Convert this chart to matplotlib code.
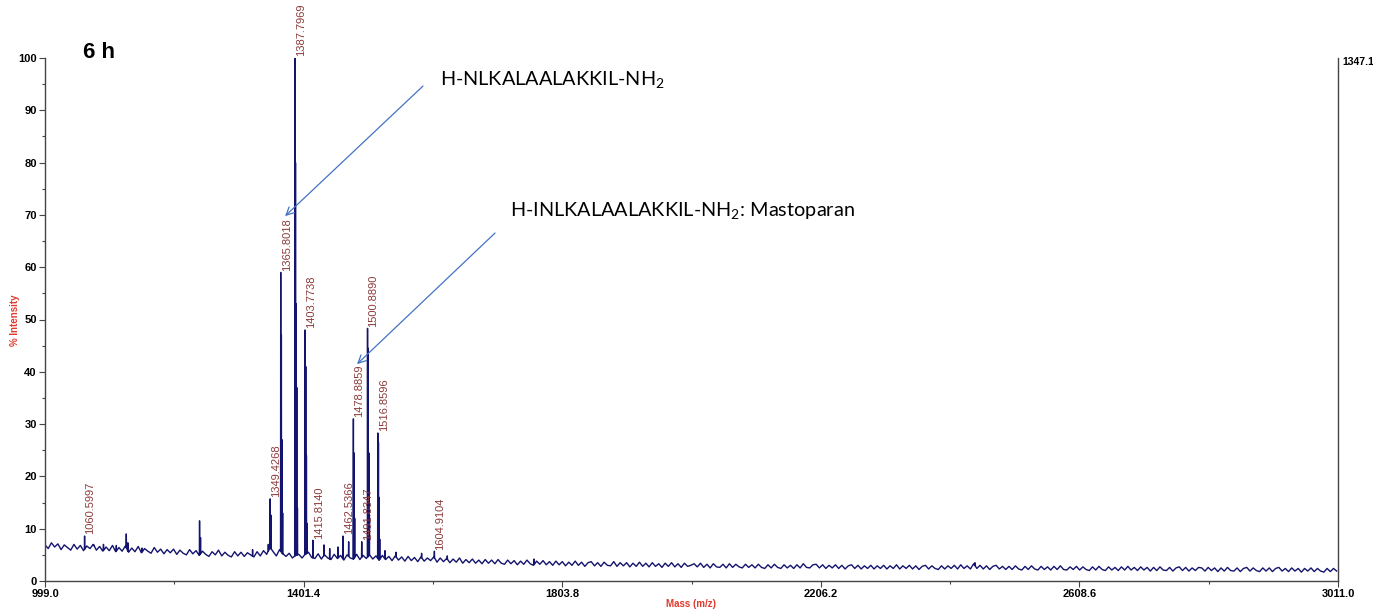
import matplotlib
matplotlib.use("Agg")
import matplotlib.pyplot as plt
import numpy as np

# spectrum baseline, one reading every 5 m/z from 999 to 3009
base_start = 999.0
base_step = 5.0
baseline = [
    6.9, 6.2, 7.3, 6.5, 7.1, 6.0, 6.9, 6.4, 5.9, 7.0, 6.1, 6.8, 5.8, 6.7, 6.2, 7.0, 5.9, 6.6, 5.7, 6.5,
    5.8, 6.8, 5.6, 6.4, 5.7, 6.7, 5.5, 6.3, 5.6, 6.6, 5.4, 6.2, 5.7, 5.3, 6.4, 5.5, 6.1, 5.2, 6.0, 5.4,
    6.1, 5.1, 5.9, 5.3, 5.0, 6.0, 5.2, 5.8, 4.9, 5.7, 5.1, 4.7, 5.6, 5.0, 5.9, 4.8, 5.5, 4.9, 4.6, 5.6,
    4.8, 5.5, 4.7, 5.4, 5.0, 4.6, 5.6, 4.8, 5.8, 5.1, 6.4, 5.6, 4.8, 6.0, 5.2, 4.7, 5.3, 4.4, 4.9, 5.1,
    4.4, 5.1, 5.5, 4.5, 4.3, 5.2, 4.2, 5.0, 4.4, 4.1, 5.1, 4.3, 4.9, 4.0, 5.0, 4.4, 4.2, 5.1, 4.1, 4.9,
    4.3, 5.0, 4.2, 4.8, 4.0, 4.9, 4.1, 4.7, 3.9, 4.8, 4.0, 4.6, 3.8, 4.7, 3.9, 4.5, 3.7, 4.6, 3.8, 4.4,
    3.9, 4.6, 3.6, 4.4, 3.7, 4.3, 3.5, 4.2, 3.6, 4.4, 3.4, 4.1, 3.5, 4.2, 3.4, 4.0, 3.3, 4.1, 3.4, 4.0,
    3.3, 4.1, 3.4, 3.2, 4.0, 3.3, 3.9, 3.1, 3.8, 3.2, 4.0, 3.3, 3.0, 3.8, 3.2, 3.9, 3.1, 3.7, 3.0, 3.8,
    3.1, 3.7, 2.9, 3.6, 3.0, 3.8, 3.0, 3.6, 2.8, 3.5, 3.7, 2.9, 3.5, 2.8, 3.6, 3.0, 2.9, 3.7, 2.8, 3.5,
    2.9, 3.5, 2.7, 3.4, 2.8, 3.6, 2.8, 3.4, 2.7, 3.5, 2.8, 3.3, 2.6, 3.4, 2.8, 3.5, 2.7, 3.3, 2.6, 3.4,
    2.8, 3.0, 3.3, 2.7, 3.4, 2.6, 3.2, 2.5, 3.3, 2.7, 2.6, 3.2, 2.5, 3.3, 2.6, 3.2, 2.7, 2.5, 3.2, 2.6,
    3.1, 2.5, 3.2, 2.6, 2.4, 3.1, 2.5, 3.2, 2.6, 2.4, 3.1, 2.5, 3.0, 2.4, 3.1, 2.5, 3.3, 2.6, 2.5, 3.1,
    3.2, 2.5, 3.1, 2.4, 3.0, 2.5, 3.1, 2.4, 3.0, 2.3, 2.9, 3.1, 2.4, 3.0, 2.3, 2.9, 2.4, 3.0, 2.3, 2.9,
    2.4, 3.0, 2.3, 2.9, 2.4, 3.1, 2.3, 2.9, 2.4, 3.0, 2.3, 2.9, 2.2, 2.8, 3.0, 2.3, 2.9, 2.4, 2.2, 2.9,
    2.3, 2.9, 2.4, 3.0, 2.3, 3.1, 2.4, 2.9, 2.3, 3.3, 2.4, 3.0, 2.3, 2.9, 2.2, 2.8, 3.0, 2.3, 2.8, 2.2,
    2.8, 2.2, 2.9, 2.3, 2.1, 2.8, 2.2, 2.9, 2.3, 2.1, 2.8, 2.2, 2.7, 2.1, 2.8, 2.2, 2.9, 2.2, 2.1, 2.7,
    2.2, 2.8, 2.1, 2.7, 2.2, 2.0, 2.7, 2.1, 2.8, 2.2, 2.0, 2.7, 2.1, 2.6, 2.0, 2.7, 2.1, 2.8, 2.1, 2.6,
    2.0, 2.7, 2.1, 2.6, 1.9, 2.6, 2.0, 2.7, 2.1, 2.0, 2.6, 1.9, 2.5, 2.7, 2.0, 2.6, 1.9, 2.5, 2.0, 2.6,
    2.5, 1.9, 2.6, 2.0, 2.5, 1.8, 2.5, 1.9, 2.6, 2.0, 1.9, 2.5, 1.8, 2.4, 2.6, 1.9, 2.5, 2.0, 1.8, 2.5,
    1.9, 2.5, 1.8, 2.4, 2.6, 1.9, 2.4, 1.8, 2.5, 1.9, 2.4, 1.7, 2.4, 1.9, 2.5, 1.8, 2.4, 1.9, 1.7, 2.4,
    1.8, 2.4, 1.9,
]

# peaks (incl. isotope lines and small unlabelled ones)
peak_mz = [1075.0, 1090.0, 1110.0, 1125.5, 1128.0, 1150.0, 1239.5, 1241.0, 1322.0, 1346.5,
           1060.5997, 1349.4268, 1350.43, 1365.8018, 1366.80, 1367.80, 1368.80,
           1387.7969, 1388.80, 1389.80, 1390.80, 1391.80,
           1403.7738, 1404.78, 1405.78, 1406.78, 1415.8140, 1433.0, 1442.0, 1455.0,
           1462.5366, 1471.5, 1478.8859, 1479.89, 1480.89, 1491.8347,
           1500.8890, 1501.89, 1502.89, 1503.89, 1516.8596, 1517.86, 1518.86, 1519.86,
           1528.0, 1545.0, 1585.0, 1604.9104, 1625.0, 1760.0, 2446.0]
peak_int = [6.9, 7.0, 6.8, 9.0, 7.3, 6.3, 11.5, 8.3, 6.0, 7.0,
            8.6, 15.7, 12.6, 59.0, 47.0, 27.0, 13.0,
            100.0, 80.0, 53.0, 37.0, 14.0,
            48.0, 41.0, 24.0, 11.0, 7.8, 6.9, 6.2, 6.5,
            8.6, 7.5, 31.0, 24.5, 12.0, 7.5,
            48.3, 44.5, 24.5, 12.0, 28.3, 26.5, 16.0, 8.0,
            5.8, 5.5, 5.3, 5.7, 4.8, 4.2, 3.5]

labelled_mz = [1060.5997, 1349.4268, 1365.8018, 1387.7969, 1403.7738, 1415.8140,
               1462.5366, 1478.8859, 1491.8347, 1500.8890, 1516.8596, 1604.9104]

xticks = [999.0, 1401.4, 1803.8, 2206.2, 2608.6, 3011.0]

plt.rcParams['mathtext.fontset'] = 'custom'
plt.rcParams['mathtext.rm'] = 'Lato'

fig = plt.figure(figsize=(13.73, 6.09), dpi=100)
ax = fig.add_axes([45 / 1373, 1 - 581 / 609, (1338 - 45) / 1373, (581 - 58) / 609])

# build trace: baseline grid plus narrow spikes at each peak
base_x = base_start + base_step * np.arange(len(baseline))
base_y = np.array(baseline)
px = np.array(peak_mz)
pb = np.interp(px, base_x, base_y)
xs = np.concatenate([base_x, px - 0.3, px, px + 0.3])
ys = np.concatenate([base_y, pb, np.array(peak_int), pb])
order = np.argsort(xs, kind='stable')
ax.plot(xs[order], ys[order], color='#14146e', lw=1.0)

# peak labels
for mz in labelled_mz:
    h = peak_int[peak_mz.index(mz)]
    ax.text(mz + 1.5, h + 0.3, f'{mz:.4f}', rotation=90, ha='left', va='bottom',
            fontsize=8, color='#8b3a3a', family='Liberation Sans')

ax.set_xlim(999.0, 3011.0)
ax.set_ylim(0, 100)
ax.set_xticks(xticks)
ax.set_xticklabels([f'{t:.1f}' for t in xticks])
ax.set_xticks([(a + b) / 2 for a, b in zip(xticks[:-1], xticks[1:])], minor=True)
ax.set_yticks(range(0, 101, 10))
ax.set_yticks(range(5, 100, 10), minor=True)
for lab in ax.get_xticklabels():
    lab.set_fontweight('bold')
    lab.set_fontfamily('Liberation Sans')
    lab.set_fontsize(8)
for lab in ax.get_yticklabels():
    lab.set_fontweight('bold')
    lab.set_fontfamily('Liberation Sans')
    lab.set_fontsize(8)
ax.tick_params(which='major', length=4, width=0.8, color='#444444', pad=2)
ax.tick_params(which='minor', length=2.5, width=0.8, color='#444444')
ax.spines['top'].set_visible(False)
for s in ['left', 'right', 'bottom']:
    ax.spines[s].set_color('#444444')
    ax.spines[s].set_linewidth(1.0)

# arrows and peptide annotations
arrow = dict(arrowstyle='->', color='#4472c4', lw=0.9, mutation_scale=14)
ax.annotate('', xy=(1369.4, 69.4), xytext=(1590.3, 95.0), arrowprops=arrow)
ax.annotate('', xy=(1481.4, 41.1), xytext=(1702.4, 66.9), arrowprops=arrow)
ax.text(1613.6, 95.8, r'H-NLKALAALAKKIL-NH$_\mathrm{2}$', fontsize=14.3, family='Lato',
        va='center', ha='left')
ax.text(1722.6, 70.6, r'H-INLKALAALAKKIL-NH$_\mathrm{2}$: Mastoparan', fontsize=14.3,
        family='Lato', va='center', ha='left')

fig.text(83 / 1373, 1 - 52 / 609, '6 h', fontsize=16, fontweight='bold',
         family='Liberation Sans', va='center', ha='left')
fig.text(1342 / 1373, 1 - 62 / 609, '1347.1', fontsize=7.5, fontweight='bold',
         family='Liberation Sans', va='center', ha='left')
fig.text(15 / 1373, 1 - 320 / 609, '% Intensity', fontsize=7, fontweight='bold',
         color='#e03a2f', family='Liberation Sans', rotation=90, va='center', ha='center')
fig.text(691 / 1373, 1 - 604 / 609, 'Mass (m/z)', fontsize=7, fontweight='bold',
         color='#e03a2f', family='Liberation Sans', va='center', ha='center')

fig.savefig('out.png', dpi=100)
